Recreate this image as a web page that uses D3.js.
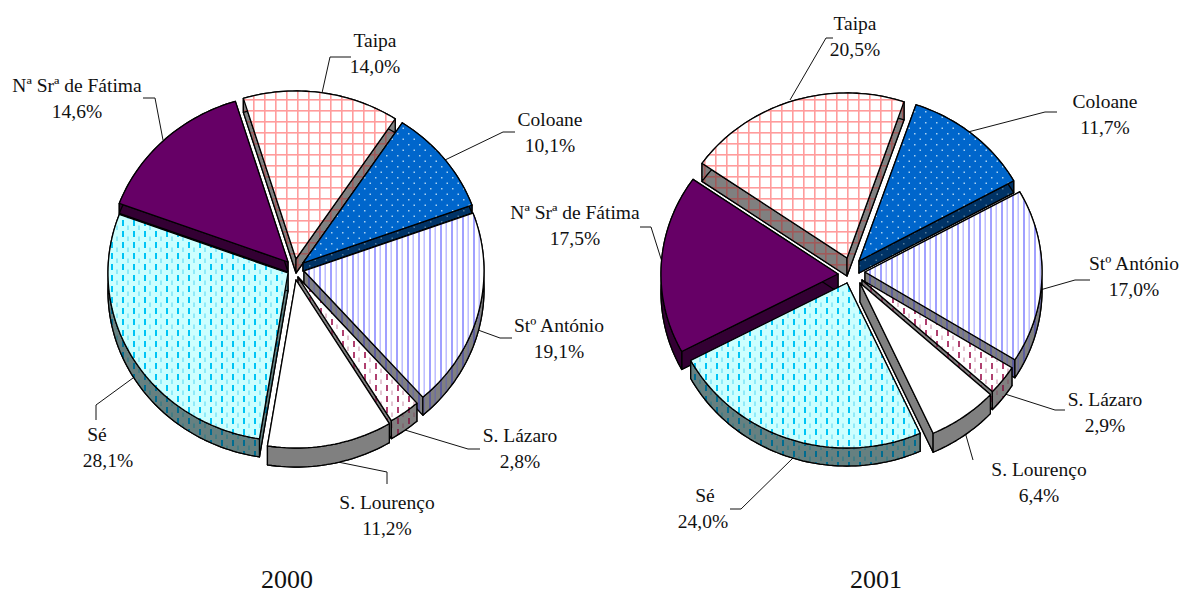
<!DOCTYPE html>
<html><head><meta charset="utf-8">
<script src="https://cdnjs.cloudflare.com/ajax/libs/d3/7.8.5/d3.min.js"></script>
<style>html,body{margin:0;padding:0;background:#fff;overflow:hidden}svg{display:block}text{font-family:"Liberation Serif","Times New Roman",serif;fill:#111}</style>
</head><body><div id="c"></div>
<script>
const categories = ["Taipa","Coloane","Stº António","S. Lázaro","S. Lourenço","Sé","Nª Srª de Fátima"];
const values2000 = [14.0,10.1,19.1,2.8,11.2,28.1,14.6];
const values2001 = [20.5,11.7,17.0,2.9,6.4,24.0,17.5];
const labels2000 = ["14,0%","10,1%","19,1%","2,8%","11,2%","28,1%","14,6%"];
const labels2001 = ["20,5%","11,7%","17,0%","2,9%","6,4%","24,0%","17,5%"];
const titles = ["2000","2001"];

// layout, separate from the data: explode = slice shift from the pie centre, depth = wall height per slice
const W=1180,H=594;
const charts=[
 {values:values2000,labels:labels2000,title:titles[0],titleX:287,cx:295,cy:268,rx:180,ry:168,start:-17,
  explode:[[1,-9],[8,-5],[9,3],[3,9],[1,12],[-7,5],[-7,-6]],
  depth:[14,8,18,18,19,18,10],
  text:[[375,47],[550,126],[559,332],[520,442],[387,509],[97,441,108],[77,92]],
  lead:[[[322,93],[330,57],[351,57]],[[445,160],[503,132],[515,132]],[[478,330],[500,338],[512,338]],
        [[405,430],[468,449],[480,449]],[[333,461],[387,472],[387,484]],[[133,378],[96,405],[96,420]],
        [[163,140],[155,98],[143,98]]]},
 {values:values2001,labels:labels2001,title:titles[1],titleX:876,cx:851,cy:270,rx:177,ry:165,start:-55,
  explode:[[-4,-12],[8,-9],[14,2],[11,10],[9,13],[-4,13],[-13,4]],
  depth:[18,12,18,18,19,18,18],
  text:[[855,30],[1105,108],[1134,270],[1105,406],[1039,476],[705,502,703],[575,219]],
  lead:[[[790,100],[826,38],[833,38]],[[968,132],[1045,112],[1057,112]],[[1040,290],[1075,280],[1090,280]],
        [[1005,394],[1055,410],[1065,410]],[[965,432],[973,460]],[[793,458],[741,509],[730,509]],
        [[663,265],[651,227],[640,227]]]}
];
const styles=[
 {top:"url(#pT)",wall:"url(#pTw)"},
 {top:"url(#pC)",wall:"url(#pCw)"},
 {top:"url(#pA)",wall:"url(#pAw)"},
 {top:"url(#pL)",wall:"url(#pLw)"},
 {top:"#ffffff",wall:"#808080"},
 {top:"url(#pS)",wall:"url(#pSw)"},
 {top:"#660066",wall:"#330033"}
];

const svg=d3.select("#c").append("svg").attr("width",W).attr("height",H);
const defs=svg.append("defs");
function pat(id,bg,draw){
  const p=defs.append("pattern").attr("id",id).attr("patternUnits","userSpaceOnUse").attr("width",11).attr("height",11);
  p.append("rect").attr("width",11).attr("height",11).attr("fill",bg);
  draw(p);
}
const rect=(p,x,y,w,h,c)=>p.append("rect").attr("x",x).attr("y",y).attr("width",w).attr("height",h).attr("fill",c);
const grid=c=>p=>{rect(p,0,0,1.6,11,c);rect(p,0,0,11,1.6,c)};
const dots=c=>p=>{rect(p,1,1,1.5,1.5,c);rect(p,6.5,6.5,1.5,1.5,c)};
const stripes=(a,b)=>p=>{rect(p,0,0,2,11,a);rect(p,5.5,0,1.4,11,b)};
const dash=(c,d)=>p=>{rect(p,1,0,2,6,c);rect(p,6.5,5.5,1,4.5,d)};
pat("pT","#ffffff",grid("#ff9c9c"));pat("pTw","#808080",grid("#a05a5a"));
pat("pC","#0066cc",dots("#a8d0f0"));pat("pCw","#003366",dots("#507898"));
pat("pA","#ffffff",stripes("#a0a0ff","#b8b8ff"));pat("pAw","#808080",stripes("#5c5c9c","#6c6ca0"));
pat("pL","#ffffff",dash("#b04070","#c888a4"));pat("pLw","#808080",dash("#803050","#805060"));
pat("pS","#ccffff",dash("#00c4f4","#50d8f4"));pat("pSw","#668080",dash("#006c90","#207888"));

const line=d3.line();
charts.forEach(ch=>{
  const g=svg.append("g");
  const x=d3.scaleLinear().domain([-1,1]).range([-ch.rx,ch.rx]);
  const y=d3.scaleLinear().domain([-1,1]).range([-ch.ry,ch.ry]);
  const rad=d3.scaleLinear().domain([0,360]).range([0,2*Math.PI]);
  const pie=d3.pie().sort(null).value(d=>d).startAngle(rad(ch.start)).endAngle(rad(ch.start+360));
  const arcs=pie(ch.values).map((a,i)=>({...a,i,mid:(a.startAngle+a.endAngle)/2}));
  const order=arcs.slice().sort((a,b)=>Math.cos(b.mid)-Math.cos(a.mid));
  ch.lead.forEach(l=>g.append("path").attr("d",line(l)).attr("fill","none").attr("stroke","#111").attr("stroke-width",1));
  order.forEach(a=>{
    const [ex,ey]=ch.explode[a.i], depth=ch.depth[a.i];
    const ox=ch.cx+ex, oy=ch.cy+ey;
    const n=Math.max(8,Math.round((a.endAngle-a.startAngle)*40));
    const pts=d3.range(n+1).map(k=>{
      const t=a.startAngle+(a.endAngle-a.startAngle)*k/n;
      return [ox+x(Math.sin(t)),oy+y(-Math.cos(t))];
    });
    const st=styles[a.i], dn=p=>[p[0],p[1]+depth];
    const apex=[ox,oy];
    const draw=(d,f)=>g.append("path").attr("d",d).attr("fill",f).attr("stroke","#000").attr("stroke-width",1.3).attr("stroke-linejoin","round");
    draw(line([apex,...pts].map(dn))+"Z",st.wall);
    draw(line([apex,pts[0],dn(pts[0]),dn(apex)])+"Z",st.wall);
    draw(line([apex,pts[n],dn(pts[n]),dn(apex)])+"Z",st.wall);
    draw(line([...pts,...pts.slice().reverse().map(dn)])+"Z",st.wall);
    draw(line([apex,...pts])+"Z",st.top);
  });
  arcs.forEach(a=>{
    const [tx,ty,tx2]=ch.text[a.i];
    const t=g.append("text").attr("text-anchor","middle").attr("font-size",19.5);
    t.append("tspan").attr("x",tx).attr("y",ty).text(categories[a.i]);
    t.append("tspan").attr("x",tx2===undefined?tx:tx2).attr("y",ty+26).text(ch.labels[a.i]);
  });
  g.append("text").attr("x",ch.titleX).attr("y",588).attr("text-anchor","middle").attr("font-size",26).text(ch.title);
});
</script></body></html>
